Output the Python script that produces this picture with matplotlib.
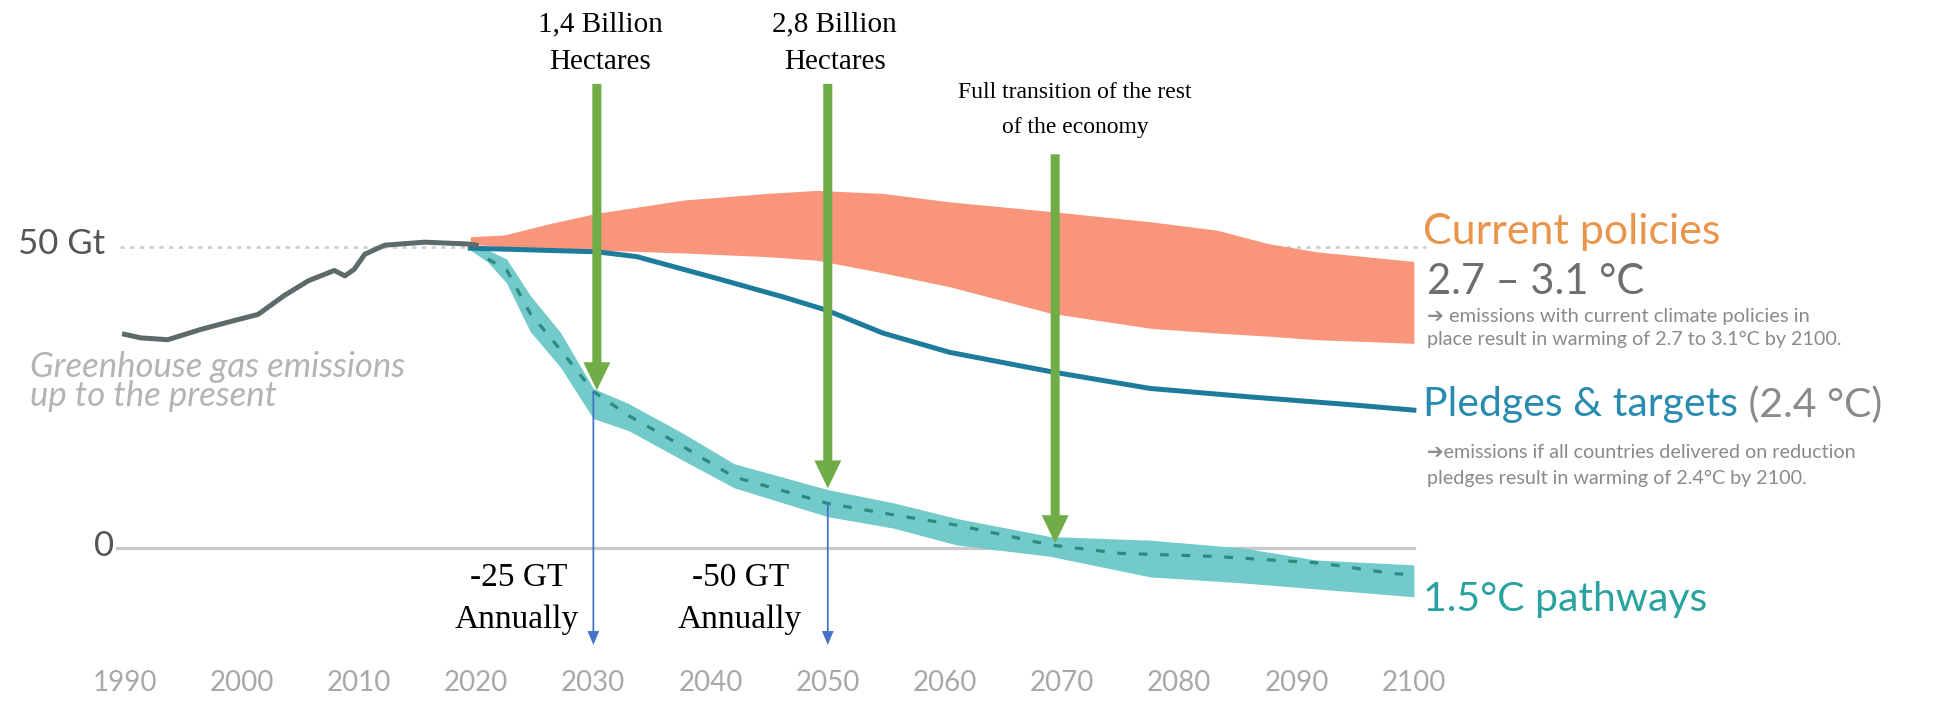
import matplotlib.pyplot as plt
import numpy as np

# historical emissions (Gt)
hist_years = [1990, 1991.4, 1993.7, 1996.5, 1999.4, 2001.4, 2003.6, 2005.7, 2007.9,
              2008.8, 2009.6, 2010.5, 2012.2, 2015.6, 2019.3, 2020]
hist_vals = [35.5, 34.9, 34.6, 36.3, 37.8, 38.8, 41.9, 44.4, 46.1,
             45.2, 46.3, 48.8, 50.3, 50.8, 50.5, 50.3]

# current policies band
cp_years = [2019.5, 2022.4, 2026.3, 2030.3, 2037.7, 2044.8, 2049.1, 2054.7, 2060.4,
            2069, 2077.5, 2083.2, 2087.5, 2091.7, 2100]
cp_upper = [51.7, 52.0, 53.9, 55.6, 57.8, 58.9, 59.4, 58.9, 57.5,
            55.9, 54.2, 52.8, 50.6, 49.2, 47.6]
cp_lower = [50.5, 50.0, 49.7, 49.5, 49.0, 48.4, 47.8, 45.7, 43.4,
            39.0, 36.5, 35.7, 35.2, 34.6, 34.0]

# pledges & targets
pl_years = [2019.5, 2025, 2030.3, 2033.7, 2040.5, 2046.2, 2049.9, 2054.7, 2060.4,
            2069, 2077.5, 2086, 2094.6, 2100]
pl_vals = [49.8, 49.5, 49.2, 48.4, 44.8, 41.7, 39.5, 35.7, 32.5,
           29.3, 26.5, 25.1, 23.8, 22.9]

# 1.5C pathways band + median
p15_years = [2019.5, 2021, 2022.6, 2024.6, 2027.2, 2030, 2033, 2037.7, 2042,
             2050, 2055.6, 2061, 2069, 2077.5, 2085.4, 2091.7, 2100]
p15_upper = [50.5, 49.5, 48.0, 42.0, 35.8, 26.5, 24.0, 19.0, 14.0,
             9.7, 7.5, 4.9, 1.9, 1.3, 0.0, -2.0, -2.8]
p15_lower = [49.5, 47.5, 44.0, 36.0, 30.0, 21.5, 19.5, 14.5, 10.0,
             5.2, 3.3, 0.5, -1.4, -4.8, -5.8, -6.8, -8.1]
p15_mid_years = [2021, 2022.6, 2024.6, 2027.2, 2030, 2033, 2037.7, 2042, 2050,
                 2055.6, 2061, 2069, 2075, 2083, 2092, 2098, 2100]
p15_mid = [48.0, 46.2, 39.0, 32.9, 26.0, 22.0, 16.8, 11.8, 7.4,
           5.5, 3.8, 0.5, -0.9, -1.4, -2.5, -4.2, -4.5]

tick_years = [1990, 2000, 2010, 2020, 2030, 2040, 2050, 2060, 2070, 2080, 2090, 2100]

# annotations: (year, arrow top, arrow tip)
green_arrows = [(2030.3, 77.1, 26.2), (2050.0, 77.1, 9.9), (2069.4, 65.4, 0.8)]
blue_arrows = [(2030.0, 26.0, -16.1), (2050.0, 7.4, -16.1)]

fig = plt.figure(figsize=(19.39, 7.06), dpi=100)
ax = fig.add_axes([0, 0, 1, 1])
ax.set_xlim(1979.38, 2144.8)
ax.set_ylim(-26.25, 91.03)
ax.axis('off')

sans = ['Lato', 'DejaVu Sans']
serif = ['Liberation Serif', 'DejaVu Serif']

# reference lines
ax.plot([1989.6, 2101], [50, 50], color='#cfcfcf', lw=2, ls=(0, (1.5, 2)))
ax.plot([1989.4, 2100], [0, 0], color='#c8c8c8', lw=2.3, zorder=1)
ax.text(1984.67, 50.5, '50 Gt', ha='center', va='center', fontsize=25,
        color='#555555', family=sans)
ax.text(1988.25, 0.3, '0', ha='center', va='center', fontsize=25,
        color='#555555', family=sans)

# series
ax.fill_between(cp_years, cp_lower, cp_upper, color='#f8957a', lw=0, zorder=2)
ax.plot(pl_years, pl_vals, color='#1d7b9c', lw=3.6, zorder=3)
ax.fill_between(p15_years, p15_lower, p15_upper, color='#72caca', lw=0, zorder=2)
ax.plot(p15_mid_years, p15_mid, color='#2c8a80', lw=2.3, ls=(0, (2.7, 4)), zorder=3)
ax.plot(hist_years, hist_vals, color='#5e6a6a', lw=3.6, zorder=4)

ax.text(1981.9, 30.1, 'Greenhouse gas emissions', ha='left', va='center',
        fontsize=25, style='italic', color='#b4b4b4', family=sans)
ax.text(1981.9, 25.3, 'up to the present', ha='left', va='center',
        fontsize=25, style='italic', color='#b4b4b4', family=sans)

for yr in tick_years:
    ax.text(yr, -22.4, str(yr), ha='center', va='center', fontsize=20,
            color='#a8a8a8', family=sans)

# right-hand labels
ax.text(2100.8, 52.5, 'Current policies', ha='left', va='center', fontsize=31,
        color='#e9954c', family=sans)
ax.text(2101.1, 44.2, '2.7 – 3.1 °C', ha='left', va='center', fontsize=30,
        color='#6e6e6e', family=sans)
ax.text(2101.1, 38.5, '➔ emissions with current climate policies in', ha='left',
        va='center', fontsize=14.5, color='#8a8a8a', family=sans)
ax.text(2101.1, 34.6, 'place result in warming of 2.7 to 3.1°C by 2100.', ha='left',
        va='center', fontsize=14.2, color='#8a8a8a', family=sans)
t = ax.text(2100.8, 23.8, 'Pledges & targets', ha='left', va='center', fontsize=29.5,
            color='#2a8bb0', family=sans)
ax.annotate(' (2.4 °C)', xycoords=t, xy=(1, 0.5), ha='left', va='center',
            fontsize=29.5, color='#8a8a8a', family=sans)
ax.text(2101.1, 15.8, '➔emissions if all countries delivered on reduction', ha='left',
        va='center', fontsize=14.2, color='#8a8a8a', family=sans)
ax.text(2101.1, 11.6, 'pledges result in warming of 2.4°C by 2100.', ha='left',
        va='center', fontsize=14.2, color='#8a8a8a', family=sans)
ax.text(2100.8, -8.6, '1.5°C pathways', ha='left', va='center', fontsize=29.5,
        color='#2aa3a0', family=sans)

# annotations
for x, top, tip in green_arrows:
    ax.arrow(x, top, 0, tip - top, width=0.77, head_width=2.3, head_length=4.65,
             length_includes_head=True, color='#70ad47', lw=0, zorder=6)
for x, top, tip in blue_arrows:
    ax.arrow(x, top, 0, tip - top, width=0.15, head_width=1.0, head_length=2.3,
             length_includes_head=True, color='#4472c4', lw=0, zorder=6)

ax.text(2030.6, 86.9, '1,4 Billion', ha='center', va='center', fontsize=21,
        family=serif, color='black')
ax.text(2030.6, 80.7, 'Hectares', ha='center', va='center', fontsize=21,
        family=serif, color='black')
ax.text(2050.6, 86.9, '2,8 Billion', ha='center', va='center', fontsize=21,
        family=serif, color='black')
ax.text(2050.6, 80.7, 'Hectares', ha='center', va='center', fontsize=21,
        family=serif, color='black')
ax.text(2071.1, 75.6, 'Full transition of the rest', ha='center', va='center',
        fontsize=17, family=serif, color='black')
ax.text(2071.1, 69.9, 'of the economy', ha='center', va='center',
        fontsize=17, family=serif, color='black')
ax.text(2023.6, -5.0, '-25 GT', ha='center', va='center', fontsize=24,
        family=serif, color='black')
ax.text(2023.5, -11.9, 'Annually', ha='center', va='center', fontsize=24,
        family=serif, color='black')
ax.text(2042.6, -5.0, '-50 GT', ha='center', va='center', fontsize=24,
        family=serif, color='black')
ax.text(2042.5, -11.9, 'Annually', ha='center', va='center', fontsize=24,
        family=serif, color='black')

fig.savefig('out.png', dpi=100)
